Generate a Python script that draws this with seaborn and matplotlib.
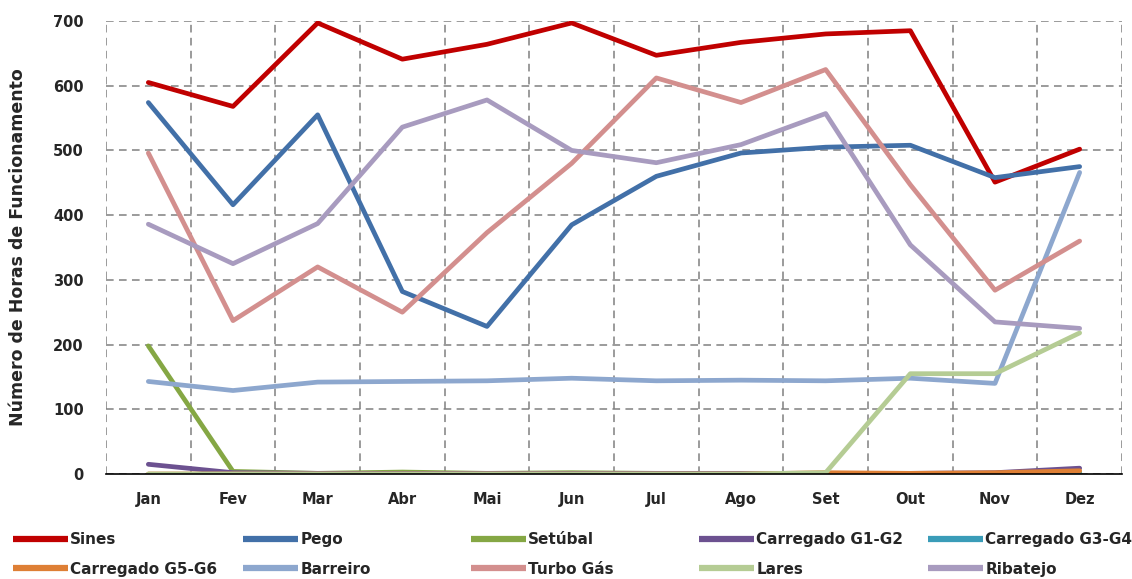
import matplotlib
matplotlib.use("Agg")
import matplotlib.pyplot as plt
import seaborn as sns
import pandas as pd
from matplotlib.lines import Line2D

months = ["Jan", "Fev", "Mar", "Abr", "Mai", "Jun", "Jul", "Ago", "Set", "Out", "Nov", "Dez"]

sines = [605, 568, 697, 641, 664, 697, 647, 667, 680, 685, 451, 502]
pego = [574, 416, 555, 282, 228, 385, 460, 496, 505, 508, 458, 475]
setubal = [198, 4, 1, 3, 1, 2, 1, 1, 1, 0, 1, 3]
carregado_g1g2 = [15, 2, 1, 1, 1, 1, 1, 1, 1, 1, 2, 9]
carregado_g3g4 = [0, 0, 0, 0, 0, 0, 0, 0, 0, 0, 0, 0]
carregado_g5g6 = [0, 0, 0, 0, 0, 0, 0, 0, 2, 1, 2, 5]
barreiro = [143, 129, 142, 143, 144, 148, 144, 145, 144, 148, 140, 466]
turbo_gas = [496, 237, 320, 250, 373, 480, 612, 574, 625, 447, 284, 360]
lares = [0, 0, 0, 0, 0, 0, 0, 0, 2, 155, 155, 218]
ribatejo = [386, 325, 387, 536, 578, 500, 481, 509, 557, 354, 235, 225]

series_names = ["Sines", "Pego", "Setúbal", "Carregado G1-G2", "Carregado G3-G4",
                "Carregado G5-G6", "Barreiro", "Turbo Gás", "Lares", "Ribatejo"]
series_values = [sines, pego, setubal, carregado_g1g2, carregado_g3g4,
                 carregado_g5g6, barreiro, turbo_gas, lares, ribatejo]
colors = ["#C00000", "#4270A8", "#85A744", "#6C5190", "#3A9CB8",
          "#DE7F35", "#8DA7CE", "#D38F8E", "#B5CC94", "#A89BBF"]

rows = []
for name, vals in zip(series_names, series_values):
    for m, v in zip(months, vals):
        rows.append({"Mês": m, "Horas": v, "Central": name})
df = pd.DataFrame(rows)

sns.set_theme(style="white")
plt.rcParams["font.family"] = ["DejaVu Sans"]
plt.rcParams["font.weight"] = "bold"

W, H = 1132, 579
fig = plt.figure(figsize=(W / 100, H / 100), dpi=100)
ax = fig.add_axes([106 / W, 1 - 474 / H, (1122 - 106) / W, (474 - 21) / H])

sns.lineplot(data=df, x="Mês", y="Horas", hue="Central", hue_order=series_names,
             palette=colors, linewidth=3.4, ax=ax, legend=False, sort=False)

ax.set_xlim(-0.5, 11.5)
ax.set_ylim(0, 700)
ax.set_yticks(range(0, 701, 100))
ax.set_xticks(range(12))
ax.set_xticklabels(months)
ax.set_xticks([i + 0.5 for i in range(-1, 12)], minor=True)
ax.grid(False)
ax.grid(True, axis="y", which="major", linestyle=(0, (5, 3.5)), color="#808080", linewidth=1.1)
ax.grid(True, axis="x", which="minor", linestyle=(0, (5, 3.5)), color="#808080", linewidth=1.1)
for s in ["top", "right", "left"]:
    ax.spines[s].set_visible(False)
ax.spines["bottom"].set_color("black")
ax.spines["bottom"].set_linewidth(1.2)
ax.tick_params(axis="x", which="major", length=0, pad=13, labelsize=10.5)
ax.tick_params(axis="x", which="minor", length=5, color="black", width=1, direction="out")
ax.tick_params(axis="y", length=0, pad=16, labelsize=10.5)
for lab in ax.get_xticklabels() + ax.get_yticklabels():
    lab.set_fontweight("bold")
ax.set_xlabel("")
ax.set_ylabel("Número de Horas de Funcionamento", fontsize=12.5, fontweight="bold")
ax.yaxis.set_label_coords((27 - 106) / (1122 - 106), 0.5)

col_x = [13, 243, 471, 699, 928]
for c in range(5):
    idx = [c, c + 5]
    handles = [Line2D([0], [0], color=colors[i], linewidth=4.5, solid_capstyle="butt") for i in idx]
    labels = [series_names[i] for i in idx]
    fig.legend(handles, labels, loc="upper left",
               bbox_to_anchor=(col_x[c] / W, 1 - 532 / H),
               ncol=1, frameon=False, handlelength=3.6, handletextpad=0.15,
               labelspacing=0.95, borderpad=0, borderaxespad=0,
               prop={"size": 11, "weight": "bold"})

fig.savefig("out.png", dpi=100)
